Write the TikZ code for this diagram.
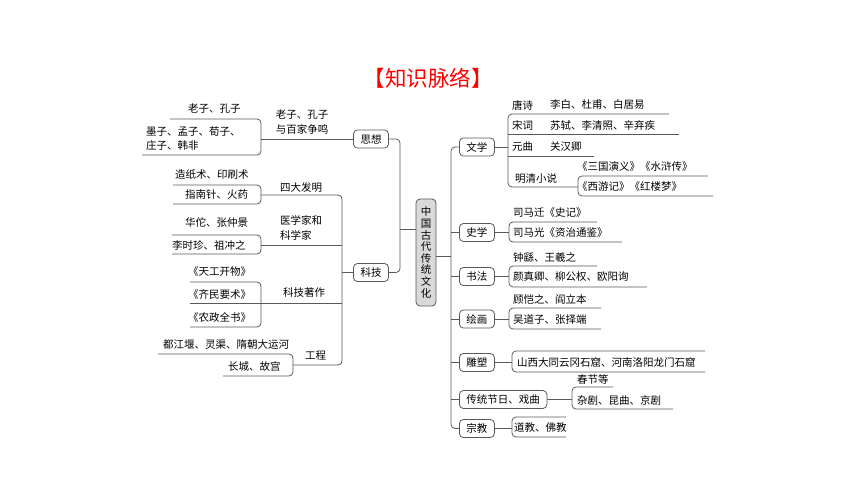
\documentclass[tikz,border=0pt]{standalone}
\usepackage{fontspec}
\setmainfont{Noto Sans CJK SC}
\definecolor{mapline}{HTML}{595959}
\definecolor{rootfill}{HTML}{D9D9D9}
\definecolor{titlered}{HTML}{FF0000}
\usepackage{tikz}
\usetikzlibrary{positioning}

\begin{document}
\begin{tikzpicture}[x=1pt, y=-1pt,
    ln/.style={draw=mapline, line width=0.8pt, rounded corners=4pt},
    topic/.style={draw=mapline, line width=0.8pt, rounded corners=4pt, fill=white,
      minimum height=18pt, inner xsep=7pt, inner ysep=0pt, font=\fontsize{10.5}{12}\selectfont},
    leaf/.style={inner sep=0pt, anchor=west, font=\fontsize{10.5}{12}\selectfont},
  ]
  \useasboundingbox (0,0) rectangle (860,484);
  % Title
  \node[font=\fontsize{21.5}{24}\selectfont, text=titlered] (title) at (428,78) {【知识脉络】};
  % Root
  \node[draw=mapline, line width=0.8pt, rounded corners=4pt, fill=rootfill,
    minimum width=20pt, minimum height=107pt, inner sep=0pt, align=center,
    font=\fontsize{10.5}{11.6}\selectfont] (root) at (426,252.5)
    {中\\国\\古\\代\\传\\统\\文\\化};
  % Left topics
  \node[topic] (sixiang) at (371,139) {思想};
  \node[topic] (keji) at (371,272.5) {科技};
  \draw[ln] (sixiang.east) -- (400,139) -- (400,272.5) -- (keji.east);
  \draw[ln] ([yshift=23.5pt]root.west) -- ++(-16,0);
  % Right topics
  \node[topic, anchor=west] (wenxue) at (459,147) {文学};
  \node[topic, anchor=west] (shixue) at (459,232.5) {史学};
  \node[topic, anchor=west] (shufa) at (459,276.5) {书法};
  \node[topic, anchor=west] (huihua) at (459,319) {绘画};
  \node[topic, anchor=west] (diaosu) at (459,362.5) {雕塑};
  \node[topic, anchor=west] (jieri) at (459,399.5) {传统节日、戏曲};
  \node[topic, anchor=west] (zongjiao) at (459,428.5) {宗教};
  \draw[ln] (wenxue.west) -- (451,147) -- (451,428.5) -- (zongjiao.west);
  \draw[ln] ([yshift=-3.5pt]root.east) -- ++(15,0);
  \foreach \t in {shixue, shufa, huihua, diaosu, jieri}
    \draw[ln] (\t.west) -- ++(-8,0);

  % 思想
  \coordinate (sx-br) at (261,139);
  \draw[ln] (sixiang.west) -- (sx-br);
  \draw[ln] (170,119) -- (261,119) -- (261,155) -- (142,155);
  \node[align=center, font=\fontsize{10.5}{15}\selectfont] (sx-lab) at (302,122) {老子、孔子\\与百家争鸣};
  \node[leaf] (sx-a) at (188,109) {老子、孔子};
  \node[leaf] (sx-b) at (146,132) {墨子、孟子、荀子、};
  \node[leaf] (sx-c) at (146,146) {庄子、韩非};

  % 科技
  \coordinate (kj-mid) at (342,272.5);
  \coordinate (fm-br) at (261,195);
  \coordinate (yx-br) at (261,245);
  \coordinate (zz-br) at (190,303);
  \coordinate (gc-br) at (293,365);
  \draw[ln] (keji.west) -- (kj-mid);
  \draw[ln] (fm-br) -- (342,195) -- (342,365) -- (gc-br);
  \draw[ln] (yx-br) -- (342,245);
  \draw[ln] (zz-br) -- (342,303);
  % 四大发明
  \draw[ln] (173,185) -- (261,185) -- (261,204) -- (173,204);
  \node[leaf] (fm-lab) at (280,188) {四大发明};
  \node[leaf] (fm-a) at (175,175) {造纸术、印刷术};
  \node[leaf] (fm-b) at (185,195) {指南针、火药};
  % 医学家和科学家
  \draw[ln] (172,235) -- (261,235) -- (261,254) -- (172,254);
  \node[leaf, align=left, font=\fontsize{10.5}{15}\selectfont] (yx-lab) at (280,228) {医学家和\\科学家};
  \node[leaf] (yx-a) at (185,223) {华佗、张仲景};
  \node[leaf] (yx-b) at (172,245) {李时珍、祖冲之};
  % 科技著作
  \draw[ln] (190,282) -- (261,282) -- (261,327) -- (190,327);
  \node[leaf] (zz-lab) at (283,293) {科技著作};
  \node[leaf] (zz-a) at (188,272) {《天工开物》};
  \node[leaf] (zz-b) at (188,295) {《齐民要术》};
  \node[leaf] (zz-c) at (188,317) {《农政全书》};
  % 工程
  \draw[ln] (158,354) -- (293,354) -- (293,376) -- (223,376);
  \node[leaf] (gc-lab) at (305,356) {工程};
  \node[leaf] (gc-a) at (163,345) {都江堰、灵渠、隋朝大运河};
  \node[leaf] (gc-b) at (228,366) {长城、故宫};

  % 文学
  \coordinate (wx-br) at (508,147);
  \draw[ln] (wenxue.east) -- (wx-br);
  \draw[ln] (669,114) -- (508,114) -- (508,187) -- (578,187);
  \draw[ln] (508,134) -- (679,134);
  \draw[ln] (508,156) -- (594,156);
  \draw[ln] (708,176) -- (578,176) -- (578,196) -- (713,196);
  \node[leaf] (ts) at (512,105) {唐诗};
  \node[leaf] (ts-a) at (550,105) {李白、杜甫、白居易};
  \node[leaf] (sc) at (512,125) {宋词};
  \node[leaf] (sc-a) at (550,125) {苏轼、李清照、辛弃疾};
  \node[leaf] (yq) at (512,147) {元曲};
  \node[leaf] (yq-a) at (550,147) {关汉卿};
  \node[leaf] (mq) at (515,179) {明清小说};
  \node[leaf] (mq-a) at (577,167) {《三国演义》《水浒传》};
  \node[leaf] (mq-b) at (577,187) {《西游记》《红楼梦》};

  % 史学
  \coordinate (shx-br) at (509,232.5);
  \draw[ln] (shixue.east) -- (shx-br);
  \draw[ln] (597,222) -- (509,222) -- (509,242) -- (622,242);
  \node[leaf] (shx-a) at (513,213) {司马迁《史记》};
  \node[leaf] (shx-b) at (513,233) {司马光《资治通鉴》};

  % 书法
  \coordinate (sf-br) at (509,276.5);
  \draw[ln] (shufa.east) -- (sf-br);
  \draw[ln] (597,266) -- (509,266) -- (509,287) -- (647,287);
  \node[leaf] (sf-a) at (513,257) {钟繇、王羲之};
  \node[leaf] (sf-b) at (513,277) {颜真卿、柳公权、欧阳询};

  % 绘画
  \coordinate (hh-br) at (509,319);
  \draw[ln] (huihua.east) -- (hh-br);
  \draw[ln] (601,308) -- (509,308) -- (509,329) -- (601,329);
  \node[leaf] (hh-a) at (513,299) {顾恺之、阎立本};
  \node[leaf] (hh-b) at (513,320) {吴道子、张择端};

  % 雕塑
  \coordinate (ds-br) at (512,362.5);
  \draw[ln] (diaosu.east) -- (ds-br);
  \draw[ln] (705,351) -- (512,351) -- (512,372) -- (705,372);
  \node[leaf] (ds-a) at (517,362) {山西大同云冈石窟、河南洛阳龙门石窟};

  % 传统节日、戏曲
  \coordinate (jr-br) at (572,399.5);
  \draw[ln] (jieri.east) -- (jr-br);
  \draw[ln] (613,387) -- (572,387) -- (572,409) -- (673,409);
  \node[leaf] (jr-a) at (577,379) {春节等};
  \node[leaf] (jr-b) at (577,400) {杂剧、昆曲、京剧};

  % 宗教
  \coordinate (zj-br) at (512,428.5);
  \draw[ln] (zongjiao.east) -- (zj-br);
  \draw[ln] (566,417) -- (512,417) -- (512,437) -- (566,437);
  \node[leaf] (zj-a) at (514,428) {道教、佛教};
\end{tikzpicture}
\end{document}
